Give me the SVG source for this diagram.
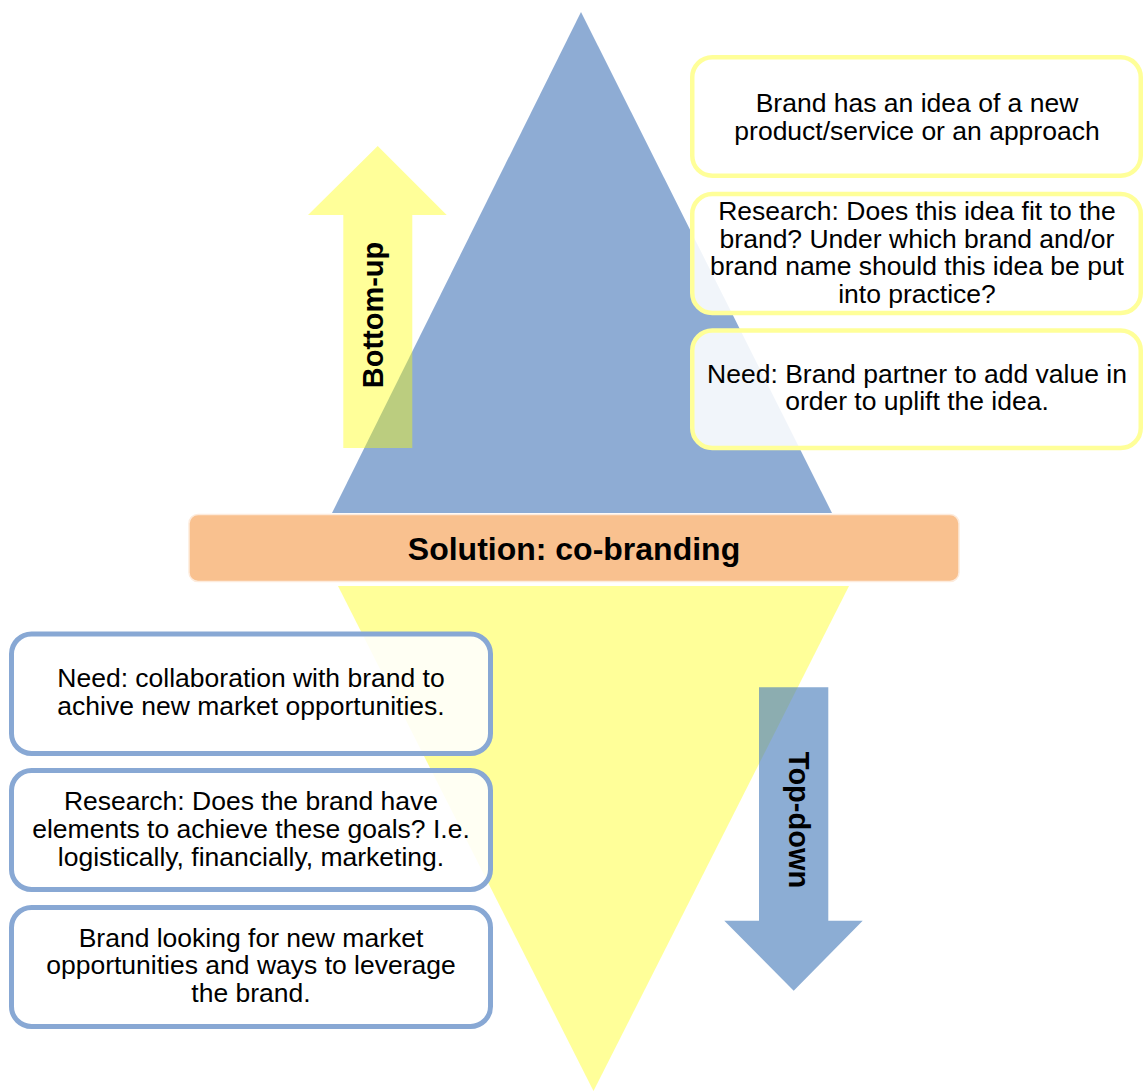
<svg xmlns="http://www.w3.org/2000/svg" width="1144" height="1091" viewBox="0 0 1144 1091">
  <style>
    .t { font-family: "Liberation Sans", Arial, Helvetica, sans-serif; font-size: 26.5px; fill: #000; text-anchor: middle; }
    .b { font-family: "Liberation Sans", Arial, Helvetica, sans-serif; font-weight: bold; fill: #000; text-anchor: middle; }
    .rbox { fill: #FFFFFF; fill-opacity: 0.88; stroke: #FFFF99; stroke-width: 4.5; }
    .lbox { fill: #FFFFFF; fill-opacity: 0.88; stroke: #88A8D4; stroke-width: 5; }
  </style>
  <rect width="1144" height="1091" fill="#FFFFFF"/>

  <g id="top-triangle">
    <polygon points="581,12 832,513 332,513" fill="#8EACD4"/>
  </g>
  <g id="bottom-triangle">
    <polygon points="338,586 849,586 593.5,1091" fill="#FFFF99"/>
  </g>

  <g id="bottom-up-arrow">
    <polygon points="377.7,146 446.7,215 412.3,215 412.3,448 343.3,448 343.3,215 308,215" fill="#FFFF00" fill-opacity="0.4"/>
    <text class="b" font-size="29" transform="translate(383,315) rotate(-90)">Bottom-up</text>
  </g>

  <g id="top-down-arrow">
    <polygon points="759,687.3 828.3,687.3 828.3,920.7 862.7,920.7 793.7,990.7 724.3,920.7 759,920.7" fill="#4F81BD" fill-opacity="0.65"/>
    <text class="b" font-size="29" transform="translate(789,820) rotate(90)">Top-down</text>
  </g>

  <g id="solution-bar">
    <rect x="189" y="514.5" width="770" height="67" rx="9" fill="#F9C18F" stroke="#FDEBDC" stroke-width="1.5"/>
    <text class="b" font-size="32" x="574" y="560">Solution: co-branding</text>
  </g>

  <g id="right-box-1">
    <rect class="rbox" x="692.25" y="57.25" width="448.5" height="118.5" rx="20"/>
    <text class="t" x="917" y="112">Brand has an idea of a new</text>
    <text class="t" x="917" y="139.5">product/service or an approach</text>
  </g>
  <g id="right-box-2">
    <rect class="rbox" x="692.25" y="194" width="448.5" height="119" rx="20"/>
    <text class="t" x="917" y="220">Research: Does this idea fit to the</text>
    <text class="t" x="917" y="247.5">brand? Under which brand and/or</text>
    <text class="t" x="917" y="275">brand name should this idea be put</text>
    <text class="t" x="917" y="302.5">into practice?</text>
  </g>
  <g id="right-box-3">
    <rect class="rbox" x="692.25" y="330.5" width="448.5" height="117.5" rx="20"/>
    <text class="t" x="917" y="382.5">Need: Brand partner to add value in</text>
    <text class="t" x="917" y="410">order to uplift the idea.</text>
  </g>

  <g id="left-box-1">
    <rect class="lbox" x="11.5" y="634" width="479" height="119.5" rx="20"/>
    <text class="t" x="251" y="687">Need: collaboration with brand to</text>
    <text class="t" x="251" y="715">achive new market opportunities.</text>
  </g>
  <g id="left-box-2">
    <rect class="lbox" x="11.5" y="770.5" width="479" height="119" rx="20"/>
    <text class="t" x="251" y="810">Research: Does the brand have</text>
    <text class="t" x="251" y="838.3">elements to achieve these goals? I.e.</text>
    <text class="t" x="251" y="866">logistically, financially, marketing.</text>
  </g>
  <g id="left-box-3">
    <rect class="lbox" x="11.5" y="907.5" width="479" height="119" rx="20"/>
    <text class="t" x="251" y="947">Brand looking for new market</text>
    <text class="t" x="251" y="974.3">opportunities and ways to leverage</text>
    <text class="t" x="251" y="1002">the brand.</text>
  </g>

  <g id="connectors"></g>
</svg>
